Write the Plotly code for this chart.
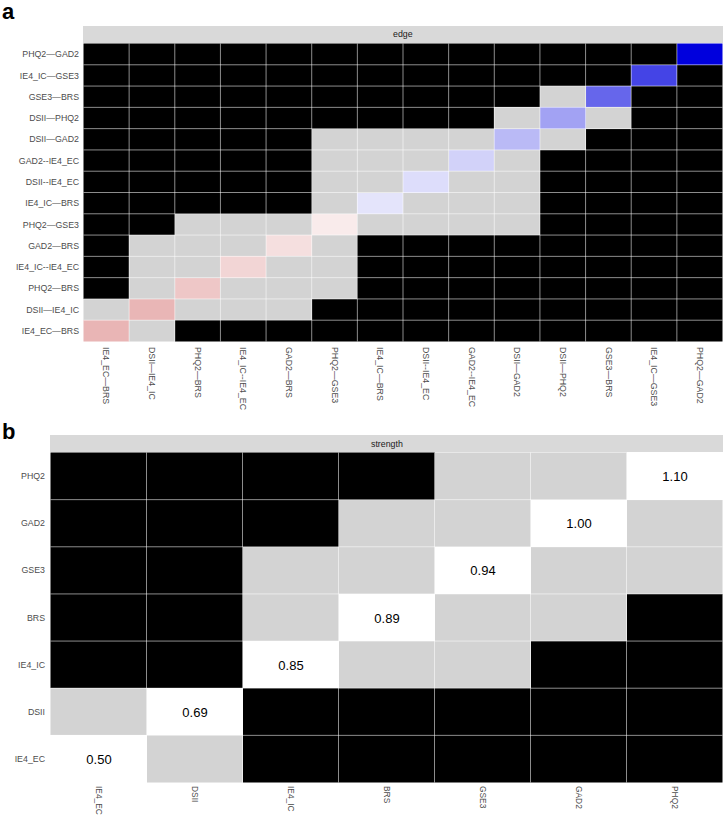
import plotly.graph_objects as go

# ---------------- data ----------------
edges = ["IE4_EC—BRS", "DSII—IE4_IC", "PHQ2—BRS", "IE4_IC--IE4_EC", "GAD2—BRS",
         "PHQ2—GSE3", "IE4_IC—BRS", "DSII--IE4_EC", "GAD2--IE4_EC", "DSII—GAD2",
         "DSII—PHQ2", "GSE3—BRS", "IE4_IC—GSE3", "PHQ2—GAD2"]
edge_weights = [0.077, 0.078, 0.095, 0.109, 0.119, 0.130, 0.176, 0.183,
                0.194, 0.218, 0.241, 0.300, 0.333, 0.400]
# rows bottom -> top ; '1' = significant difference (black), '0' = not (grey), '-' = diagonal
edge_sig = [
    "-0111111111111",
    "0-000111111111",
    "10-00011111111",
    "100-0011111111",
    "1000-011111111",
    "11000-00001111",
    "111110-0001111",
    "1111100-001111",
    "11111000-01111",
    "111110000-0111",
    "1111111110-011",
    "11111111110-11",
    "111111111111-1",
    "1111111111111-",
]

nodes = ["IE4_EC", "DSII", "IE4_IC", "BRS", "GSE3", "GAD2", "PHQ2"]
strength = [0.50, 0.69, 0.85, 0.89, 0.94, 1.00, 1.10]
strength_sig = [
    "-011111",
    "0-11111",
    "11-0011",
    "110-001",
    "1100-00",
    "11100-0",
    "111100-",
]

# ---------------- layout constants ----------------
W, H = 723, 818
FONT = "Liberation Sans, Arial, Helvetica, sans-serif"
TICK_COL = "#4D4D4D"
BLACK, GREY = "#000000", "#D3D3D3"


def px_x(p):
    return p / W


def px_y(p):
    return 1 - p / H


def sig_matrix(sig):
    return [[None if c == "-" else int(c) for c in row] for row in sig]


def diag_matrix(vals):
    n = len(vals)
    return [[vals[i] if i == j else None for j in range(n)] for i in range(n)]


fig = go.Figure()

# top panel (edge)
fig.add_trace(go.Heatmap(
    x=edges, y=edges, z=sig_matrix(edge_sig), xaxis="x", yaxis="y",
    colorscale=[[0, GREY], [1, BLACK]], zmin=0, zmax=1, showscale=False,
    hoverinfo="skip"))
fig.add_trace(go.Heatmap(
    x=edges, y=edges, z=diag_matrix(edge_weights), xaxis="x", yaxis="y",
    colorscale=[[0, "#B20000"], [0.5, "#FFFFFF"], [1, "#0000DD"]],
    zmin=-0.10, zmax=0.40, showscale=False))

# bottom panel (strength)
fig.add_trace(go.Heatmap(
    x=nodes, y=nodes, z=sig_matrix(strength_sig), xaxis="x2", yaxis="y2",
    colorscale=[[0, GREY], [1, BLACK]], zmin=0, zmax=1, showscale=False,
    hoverinfo="skip"))
fig.add_trace(go.Heatmap(
    x=nodes, y=nodes, z=diag_matrix(strength), xaxis="x2", yaxis="y2",
    colorscale=[[0, "#FFFFFF"], [1, "#FFFFFF"]], showscale=False,
    texttemplate="%{z:.2f}", textfont=dict(family=FONT, size=13, color="#000000")))

# panel geometry (pixels)
top = dict(x0=83, x1=723, y0=43, y1=342, strip=26)
bot = dict(x0=50, x1=723, y0=452, y1=783, strip=435)

axis_common = dict(type="category", showgrid=False, zeroline=False, showline=False,
                   ticks="", tickfont=dict(family=FONT, size=8.8, color=TICK_COL))

fig.update_layout(
    template="none",
    font=dict(family=FONT, color=TICK_COL),
    width=W, height=H, margin=dict(l=0, r=0, t=0, b=0),
    paper_bgcolor="white", plot_bgcolor="white", showlegend=False,
    xaxis=dict(axis_common, domain=[px_x(top["x0"]), px_x(top["x1"])], anchor="y",
               tickangle=90, categoryorder="array", categoryarray=edges, ticklabelstandoff=4),
    yaxis=dict(axis_common, domain=[px_y(top["y1"]), px_y(top["y0"])], anchor="x",
               categoryorder="array", categoryarray=edges, ticklabelstandoff=3),
    xaxis2=dict(axis_common, domain=[px_x(bot["x0"]), px_x(bot["x1"])], anchor="y2",
                tickangle=90, categoryorder="array", categoryarray=nodes, ticklabelstandoff=2,
                tickfont=dict(family=FONT, size=8.4, color=TICK_COL)),
    yaxis2=dict(axis_common, domain=[px_y(bot["y1"]), px_y(bot["y0"])], anchor="x2",
                categoryorder="array", categoryarray=nodes, ticklabelstandoff=4),
)

shapes = []
annotations = []
line_col = "rgba(255,255,255,0.55)"
for xr, yr, n in (("x", "y", len(edges)), ("x2", "y2", len(nodes))):
    for k in range(1, n):
        shapes.append(dict(type="line", xref=xr, yref=yr, x0=k - 0.5, x1=k - 0.5,
                           y0=-0.5, y1=n - 0.5, line=dict(color=line_col, width=1), layer="above"))
        shapes.append(dict(type="line", xref=xr, yref=yr, y0=k - 0.5, y1=k - 0.5,
                           x0=-0.5, x1=n - 0.5, line=dict(color=line_col, width=1), layer="above"))

for p, title in ((top, "edge"), (bot, "strength")):
    shapes.append(dict(type="rect", xref="paper", yref="paper",
                       x0=px_x(p["x0"]), x1=px_x(p["x1"]),
                       y0=px_y(p["y0"]), y1=px_y(p["strip"]),
                       fillcolor="#D9D9D9", line=dict(width=0), layer="below"))
    annotations.append(dict(xref="paper", yref="paper",
                            x=(px_x(p["x0"]) + px_x(p["x1"])) / 2,
                            y=(px_y(p["y0"]) + px_y(p["strip"])) / 2,
                            text=title, showarrow=False, xanchor="center", yanchor="middle",
                            font=dict(family=FONT, size=8.8, color="#1A1A1A")))

annotations.append(dict(xref="paper", yref="paper", x=px_x(0), y=px_y(-3), text="<b>a</b>",
                        showarrow=False, xanchor="left", yanchor="top",
                        font=dict(family=FONT, size=22, color="#000000")))
annotations.append(dict(xref="paper", yref="paper", x=px_x(0), y=px_y(417), text="<b>b</b>",
                        showarrow=False, xanchor="left", yanchor="top",
                        font=dict(family=FONT, size=22, color="#000000")))

fig.update_layout(shapes=shapes, annotations=annotations)
fig.write_html("out.html")
